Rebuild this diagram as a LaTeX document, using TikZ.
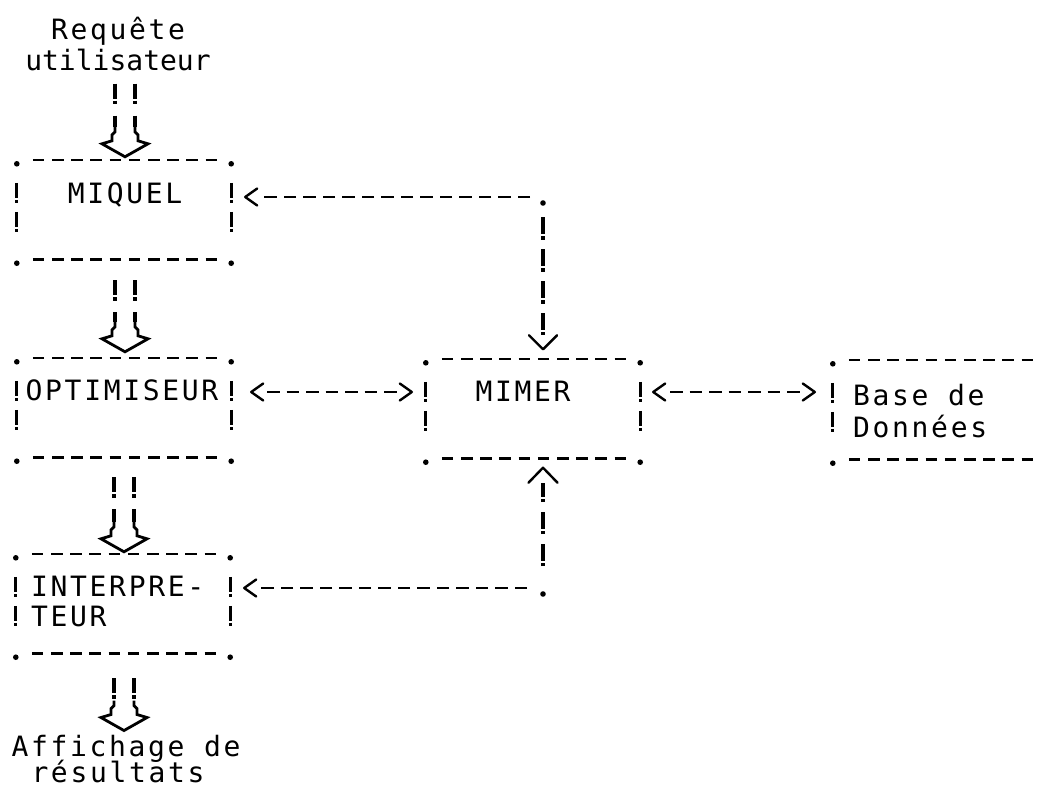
\documentclass[tikz,border=0pt]{standalone}
\usepackage{fontspec}
\newfontfamily\dotfont[LetterSpace=9.5]{DejaVu Sans Mono}
\newfontfamily\dotfontn{DejaVu Sans Mono}
\usetikzlibrary{arrows.meta,calc}

\pgfdeclarearrow{
  name = Chev,
  parameters = {\the\pgfarrowlength,\the\pgfarrowwidth},
  setup code = {
    \pgfarrowssettipend{0pt}
    \pgfarrowssetlineend{-\pgfarrowlength}
    \pgfarrowssetbackend{-\pgfarrowlength}
    \pgfarrowssavethe\pgfarrowlength
    \pgfarrowssavethe\pgfarrowwidth
  },
  drawing code = {
    \pgfsetdash{}{0pt}
    \pgfsetlinewidth{2.4pt}
    \pgfsetroundcap
    \pgfsetroundjoin
    \pgfpathmoveto{\pgfqpoint{-\pgfarrowlength}{.5\pgfarrowwidth}}
    \pgfpathlineto{\pgfpointorigin}
    \pgfpathlineto{\pgfqpoint{-\pgfarrowlength}{-.5\pgfarrowwidth}}
    \pgfusepathqstroke
  },
  defaults = {length = 12pt, width = 17pt}
}

\tikzset{
  txt/.style={font=\fontsize{28pt}{30pt}\dotfont, inner sep=0pt, anchor=base},
  txtn/.style={font=\fontsize{28pt}{30pt}\dotfontn, inner sep=0pt, anchor=base},
  frame/.style={draw=none, minimum width=214pt, minimum height=99pt, inner sep=0pt},
  bdash/.style={line width=2.6pt, dash pattern=on 11.5pt off 7.7pt},
  cdash/.style={line width=2.6pt, dash pattern=on 12.5pt off 7pt},
  bangdown/.style={line width=3.3pt, dash pattern=on 17pt off 2pt on 3.5pt off 9.5pt},
  bangup/.style={line width=3.3pt, dash pattern=on 3.5pt off 2pt on 17pt off 9.5pt},
  bangside/.style={line width=3.3pt, dash pattern=on 15pt off 2pt on 3.5pt off 8.5pt},
  bangpair/.style={line width=3.3pt, dash pattern=on 15pt off 2pt on 3.5pt off 11.5pt},
  lt/.style={-{Chev[length=12pt,width=17pt]}},
  ltgt/.style={{Chev[length=12pt,width=17pt]}-{Chev[length=12pt,width=17pt]}},
  hollow/.pic={
    \draw[line width=2.8pt, line join=miter, line cap=butt]
      (-10,-30) -- (-10,-25) -- (-13,-22) -- (-13,-16) -- (-23,-13) -- (0,0)
      -- (23,-13) -- (13,-16) -- (13,-22) -- (10,-25) -- (10,-30);
  }
}

\newcommand\myasciibox[1]{%
  \draw[bdash] ($(#1.north west)+(16,0)$) -- ($(#1.north east)+(-14,0)$);
  \draw[bdash] ($(#1.south west)+(16,0)$) -- ($(#1.south east)+(-14,0)$);
  \fill ($(#1.north west)+(0,4)$) circle (2.8pt);
  \fill ($(#1.south west)+(0,4)$) circle (2.8pt);
  \fill ($(#1.north east)+(0,4)$) circle (2.8pt);
  \fill ($(#1.south east)+(0,4)$) circle (2.8pt);
  \draw[bangside] ($(#1.north west)+(0,23)$) -- ($(#1.north west)+(0,72)$);
  \draw[bangside] ($(#1.north east)+(0,23)$) -- ($(#1.north east)+(0,72)$);
}

\newcommand\mytwinbang[2]{%
  \draw[bangpair] ($(#1)+(-10,0)$) -- ($(#2)+(-10,-30)$);
  \draw[bangpair] ($(#1)+(10,0)$) -- ($(#2)+(10,-30)$);
  \pic at (#2) {hollow};
}

\begin{document}
\begin{tikzpicture}[x=1pt,y=-1pt]
\useasboundingbox[fill=white] (0,0) rectangle (1042,790);

% texts outside boxes
\node[txt] (req1) at (118,39) {Requête};
\node[txtn] (req2) at (118,70) {utilisateur};
\node[txt] (aff1) at (126,756) {Affichage de};
\node[txt] (aff2) at (118,782) {résultats};

% box frames
\node[frame] (miquel) at (124,209.5) {};
\node[frame] (opt) at (124,407.5) {};
\node[frame] (int) at (123,603.5) {};
\node[frame] (mimer) at (533,408.5) {};
\node[frame, minimum width=200pt] (base) at (933,409.5) {};

% box texts
\node[txt] (miqueltxt) at (125,203) {MIQUEL};
\node[txt] (opttxt) at (122,400) {OPTIMISEUR};
\node[txt, anchor=base west] (inttxt1) at (31,596) {INTERPRE-};
\node[txt, anchor=base west] (inttxt2) at (31,626) {TEUR};
\node[txt] (mimertxt) at (523,401) {MIMER};
\node[txt, anchor=base west] (basetxt1) at (853,405) {Base de};
\node[txt, anchor=base west] (basetxt2) at (853,437) {Données};

\myasciibox{miquel}
\myasciibox{opt}
\myasciibox{int}
\myasciibox{mimer}
% base box (open on the right)
\draw[bdash] ($(base.north west)+(16,0)$) -- (base.north east);
\draw[bdash] ($(base.south west)+(16,0)$) -- (base.south east);
\fill ($(base.north west)+(0,4)$) circle (2.8pt);
\fill ($(base.south west)+(0,4)$) circle (2.8pt);
\draw[bangside] ($(base.north west)+(0,23)$) -- ($(base.north west)+(0,72)$);

% main flow (hollow arrows)
\coordinate (a1s) at ($(req2.south)+(7,13)$);
\coordinate (a1t) at ($(miquel.north)+(1,-3)$);
\mytwinbang{a1s}{a1t}
\coordinate (a2s) at ($(miquel.south)+(1,21)$);
\coordinate (a2t) at ($(opt.north)+(1,-6)$);
\mytwinbang{a2s}{a2t}
\coordinate (a3s) at ($(opt.south)+(0,20)$);
\coordinate (a3t) at ($(int.north)+(1,-2)$);
\mytwinbang{a3s}{a3t}
\coordinate (a4s) at ($(int.south)+(1,25)$);
\coordinate (a4t) at ($(aff1.north)+(-2,-4)$);
\mytwinbang{a4s}{a4t}

% MIMER links
\coordinate (c1) at (543,197);
\coordinate (c2) at (543,588);
\coordinate (r) at (0,392);
\draw[cdash, lt, shorten <=13pt, shorten >=14pt] (c1) -- (miquel.east |- c1);
\fill ($(c1)+(0,6)$) circle (2.8pt);
\draw[bangdown, -{Chev[length=14pt,width=28pt]}, shorten <=20pt, shorten >=9.5pt] (c1) -- (c1 |- mimer.north);

\draw[cdash, lt, shorten <=16pt, shorten >=14pt] (c2) -- (int.east |- c2);
\fill ($(c2)+(0,6)$) circle (2.8pt);
\draw[bangup, -{Chev[length=15pt,width=29pt]}, shorten <=22pt, shorten >=9.5pt] (c2) -- (c2 |- mimer.south);

\draw[cdash, dash phase=15.5pt, ltgt, shorten <=20pt, shorten >=14pt] (opt.east |- r) -- (mimer.west |- r);
\draw[cdash, dash phase=14.5pt, ltgt, shorten <=13pt, shorten >=18pt] (mimer.east |- r) -- (base.west |- r);
\end{tikzpicture}
\end{document}
